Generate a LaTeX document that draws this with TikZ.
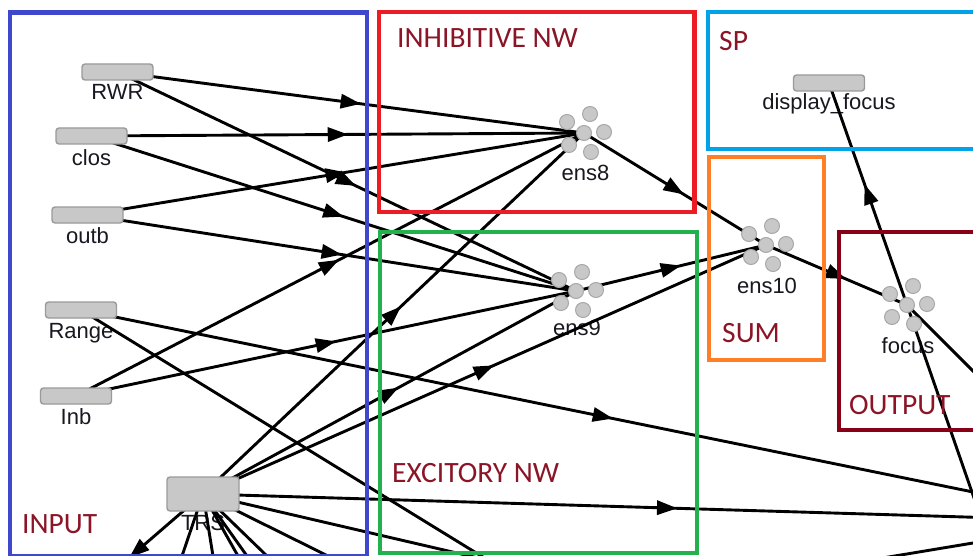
\documentclass[tikz,border=0pt]{standalone}
\usepackage{fontspec}
\setmainfont{Liberation Sans}
\newfontfamily\zonefont{Carlito}
\usetikzlibrary{decorations.markings}

\definecolor{inputblue}{HTML}{3F48CC}
\definecolor{inhibred}{HTML}{ED1C24}
\definecolor{excitgreen}{HTML}{22B14C}
\definecolor{spcyan}{HTML}{00A2E8}
\definecolor{sumorange}{HTML}{FF7F27}
\definecolor{outmaroon}{HTML}{880015}
\definecolor{zoneink}{HTML}{8B1527}
\definecolor{nodegray}{HTML}{C8C8C8}
\definecolor{nodeedge}{HTML}{9A9A9A}
\definecolor{dotedge}{HTML}{A8A8A8}
\definecolor{nameink}{HTML}{181820}

\pgfdeclarelayer{paper}
\pgfdeclarelayer{labels}
\pgfdeclarelayer{links}
\pgfdeclarelayer{frames}
\pgfsetlayers{paper,labels,links,main,frames}

\tikzset{
  srcnode/.style={draw=nodeedge, line width=1.4pt, fill=nodegray, rounded corners=3pt,
    minimum width=71pt, minimum height=16pt, inner sep=0pt},
  namelbl/.style={text=nameink, font=\fontsize{22}{24}\selectfont, anchor=base, inner sep=0pt},
  ensdot/.style={draw=dotedge, line width=1pt, fill=nodegray},
  wire/.style={line width=2.9pt, black, postaction={decorate},
    decoration={markings, mark=at position 0.5 with
      {\fill[black] (10pt,0pt) -- (-10pt,7.5pt) -- (-10pt,-7.5pt) -- cycle;}}},
  zonebox/.style={line width=4.5pt},
  zonelbl/.style={text=zoneink, font=\zonefont\fontsize{29.5}{32}\selectfont,
    anchor=base west, inner sep=0pt},
}

% six-dot ensemble glyph around a named point
\newcommand\ensdots[1]{%
  \foreach \dx/\dy in {0/0,6/-19,-17/-11,20/-1,-15/12,7/19}
    \path[ensdot] (#1) ++(\dx,\dy) circle[radius=7.5pt];
}

\begin{document}
\begin{tikzpicture}[x=1pt, y=-1pt]
\useasboundingbox (0,0) rectangle (973,556);
\begin{pgfonlayer}{paper}
  \fill[white] (0,0) rectangle (973,556);
\end{pgfonlayer}

% input nodes and other rectangular nodes
\node[srcnode] (rwr)   at (117.5,72)  {};
\node[srcnode] (clos)  at (91.5,136)  {};
\node[srcnode] (outb)  at (87.5,215)  {};
\node[srcnode] (range) at (81,310)    {};
\node[srcnode] (inb)   at (76,396)    {};
\node[srcnode, minimum width=72pt, minimum height=34pt] (trs) at (203,494) {};
\node[srcnode] (dispf) at (829,83)    {};

% ensembles
\node[coordinate] (ens8)  at (584,133) {};
\node[coordinate] (ens9)  at (576,291) {};
\node[coordinate] (ens10) at (766,245) {};
\node[coordinate] (focus) at (907,305) {};
\ensdots{ens8}
\ensdots{ens9}
\ensdots{ens10}
\ensdots{focus}

% far ends of connections leaving the view
\coordinate (rangeE) at (1125,523);
\coordinate (rangeS) at (940,838);
\coordinate (trsE)   at (1131,522);
\coordinate (trsSW)  at (71,608);
\coordinate (trsS1)  at (140,680);
\coordinate (trsS2)  at (233,680);
\coordinate (trsS3)  at (308,680);
\coordinate (trsS4)  at (335,680);
\coordinate (trsS5)  at (395,680);
\coordinate (trsS6)  at (578,680);
\coordinate (trsS7)  at (900,656);
\coordinate (focusE) at (1100,498);
\coordinate (focusS) at (1090,832);
\coordinate (crossA) at (600,605);
\coordinate (crossB) at (1400,472);

\begin{pgfonlayer}{labels}
  \node[namelbl] (rwrname)   at (117.5,100) {RWR};
  \node[namelbl] (closname)  at (91.5,165)  {clos};
  \node[namelbl] (outbname)  at (87.5,243)  {outb};
  \node[namelbl] (rangename) at (81,338)    {Range};
  \node[namelbl] (inbname)   at (76,424)    {Inb};
  \node[namelbl] (trsname)   at (203,530)   {TRS};
  \node[namelbl] (dispname)  at (829,110)   {display\textunderscore focus};
  \node[namelbl] (ens8name)  at (585.5,180) {ens8};
  \node[namelbl] (ens9name)  at (577,335)   {ens9};
  \node[namelbl] (ens10name) at (767,293)   {ens10};
  \node[namelbl] (focusname) at (908,353)   {focus};
\end{pgfonlayer}

\begin{pgfonlayer}{links}
  \draw[wire] (rwr.center)  -- (ens8);
  \draw[wire] (rwr.center)  -- (ens9);
  \draw[wire] (clos.center) -- (ens8);
  \draw[wire] (clos.center) -- (ens9);
  \draw[wire] (outb.center) -- (ens8);
  \draw[wire] (outb.center) -- (ens9);
  \draw[wire] (inb.center)  -- (ens8);
  \draw[wire] (inb.center)  -- (ens9);
  \draw[wire] (trs.center)  -- (ens8);
  \draw[wire] (trs.center)  -- (ens9);
  \draw[wire] (trs.center)  -- (ens10);
  \draw[wire] (ens8) -- (ens10);
  \draw[wire] (ens9) -- (ens10);
  \draw[wire] (ens10) -- (focus);
  \draw[wire] (focus) -- (dispf.center);
  \draw[wire] (range.center) -- (rangeE);
  \draw[wire] (range.center) -- (rangeS);
  \draw[wire] (trs.center) -- (trsE);
  \draw[wire] (trs.center) -- (trsSW);
  \draw[wire] (trs.center) -- (trsS1);
  \draw[wire] (trs.center) -- (trsS2);
  \draw[wire] (trs.center) -- (trsS3);
  \draw[wire] (trs.center) -- (trsS4);
  \draw[wire] (trs.center) -- (trsS5);
  \draw[wire] (trs.center) -- (trsS6);
  \draw[wire] (trs.center) -- (trsS7);
  \draw[wire] (focus) -- (focusE);
  \draw[wire] (focus) -- (focusS);
  \draw[wire] (crossA) -- (crossB);
\end{pgfonlayer}

\begin{pgfonlayer}{frames}
  \draw[zonebox, inputblue]  (10,12.5) rectangle (367,556.5);
  \draw[zonebox, inhibred]   (379,12)   rectangle (694.5,212);
  \draw[zonebox, excitgreen] (380,232)  rectangle (697,553);
  \draw[zonebox, spcyan]     (708,12)   rectangle (995,149);
  \draw[zonebox, sumorange]  (709,157)  rectangle (824,360);
  \draw[zonebox, outmaroon]  (839,232)  rectangle (995,430);
  \node[zonelbl] (inputtag) at (22,533)  {INPUT};
  \node[zonelbl] (inhibtag) at (397,48)  {INHIBITIVE NW};
  \node[zonelbl] (excittag) at (392,482) {EXCITORY NW};
  \node[zonelbl] (sptag)    at (719,51)  {SP};
  \node[zonelbl] (sumtag)   at (722,342) {SUM};
  \node[zonelbl] (outtag)   at (849,414) {OUTPUT};
\end{pgfonlayer}
\end{tikzpicture}
\end{document}
